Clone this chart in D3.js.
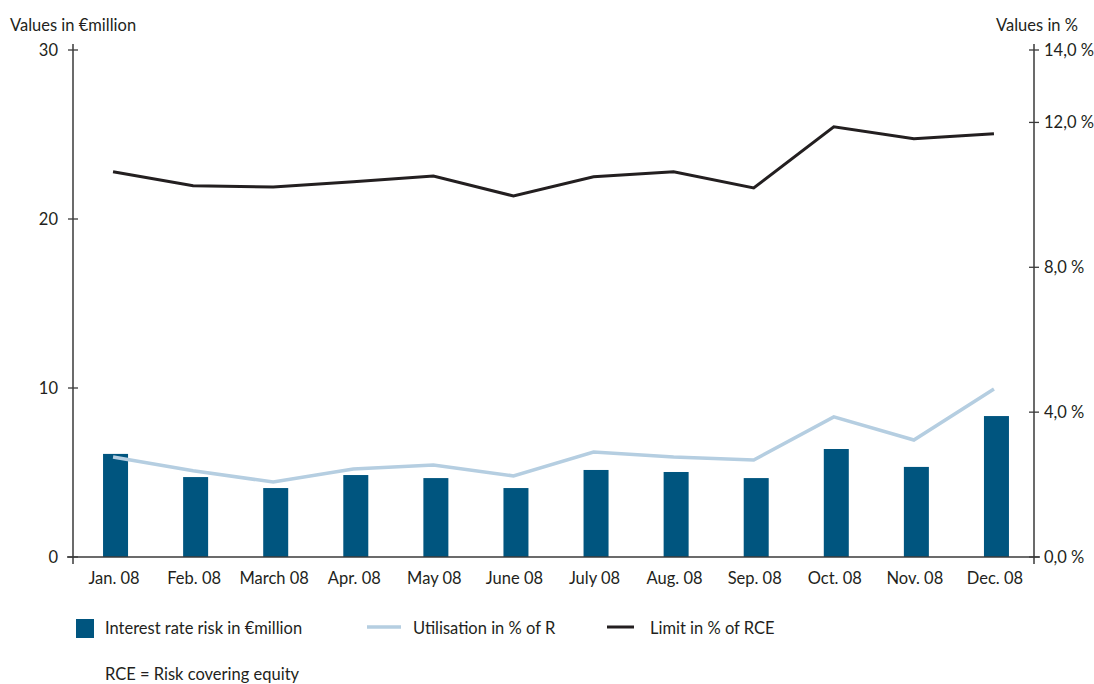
<!DOCTYPE html>
<html><head><meta charset="utf-8">
<script src="https://cdn.jsdelivr.net/npm/d3@7"></script>
<style>
body{margin:0;background:#fff;}
text{font-family:Lato,"Open Sans",sans-serif;fill:#231f20;}
</style></head>
<body><svg id="c" width="1094" height="684"></svg>
<script>
const categories = ["Jan. 08","Feb. 08","March 08","Apr. 08","May 08","June 08","July 08","Aug. 08","Sep. 08","Oct. 08","Nov. 08","Dec. 08"];
const interestRisk = [6.1,4.73,4.08,4.85,4.67,4.08,5.15,5.03,4.67,6.39,5.33,8.34];
const utilisation = [2.76,2.38,2.07,2.43,2.54,2.24,2.90,2.76,2.68,3.87,3.23,4.64];
const limit = [10.64,10.25,10.22,10.36,10.52,9.97,10.50,10.64,10.19,11.88,11.55,11.69];
const leftTicks = [0,10,20,30];
const rightTicks = [0,4,8,12,14];

const svg = d3.select("#c");
const L = 73, R = 1034, T = 50, B = 557;
const FS = 16.5;
const x = d3.scaleBand().domain(categories).range([L,R]).padding(0);
const yL = d3.scaleLinear().domain([0,30]).range([B,T]);
const yR = d3.scaleLinear().domain([0,14]).range([B,T]);
const axisColor = "#3a3a3a";

// bars
svg.append("g").selectAll("rect").data(interestRisk).join("rect")
  .attr("x",(d,i)=>x(categories[i])+x.bandwidth()/2-10)
  .attr("width",25)
  .attr("y",d=>yL(d)).attr("height",d=>B-yL(d))
  .attr("fill","#00557f");

// lines
const line = (scale)=>d3.line().x((d,i)=>x(categories[i])+x.bandwidth()/2).y(d=>scale(d));
svg.append("path").datum(utilisation).attr("d",line(yR)).attr("fill","none")
  .attr("stroke","#b5cee1").attr("stroke-width",3.5);
svg.append("path").datum(limit).attr("d",line(yR)).attr("fill","none")
  .attr("stroke","#231f20").attr("stroke-width",3);

// axes
const g = svg.append("g");
g.append("line").attr("x1",L).attr("x2",L).attr("y1",T-6).attr("y2",B+7).attr("stroke",axisColor).attr("stroke-width",1.5);
g.append("line").attr("x1",R).attr("x2",R).attr("y1",T-6).attr("y2",B+7).attr("stroke",axisColor).attr("stroke-width",1.5);
g.append("line").attr("x1",L-6).attr("x2",R+6).attr("y1",B).attr("y2",B).attr("stroke",axisColor).attr("stroke-width",1.5);

g.selectAll(".lt").data(leftTicks).join("line").attr("x1",L-5).attr("x2",L+5)
  .attr("y1",d=>yL(d)).attr("y2",d=>yL(d)).attr("stroke",axisColor).attr("stroke-width",1.3);
g.selectAll(".ll").data(leftTicks).join("text").attr("x",58).attr("y",d=>yL(d)+6)
  .attr("text-anchor","end").attr("font-size",FS).text(d=>d);

g.selectAll(".rt").data(rightTicks).join("line").attr("x1",R-5).attr("x2",R+5)
  .attr("y1",d=>yR(d)).attr("y2",d=>yR(d)).attr("stroke",axisColor).attr("stroke-width",1.3);
g.selectAll(".rl").data(rightTicks).join("text").attr("x",1044).attr("y",d=>yR(d)+6)
  .attr("font-size",FS).text(d=>d.toFixed(1).replace(".",",")+" %");

g.selectAll(".xl").data(categories).join("text").attr("x",d=>x(d)+x.bandwidth()/2+1).attr("y",584)
  .attr("text-anchor","middle").attr("font-size",FS).text(d=>d);

svg.append("text").attr("x",10).attr("y",31).attr("font-size",FS).text("Values in €million");
svg.append("text").attr("x",1078).attr("y",31).attr("font-size",FS).attr("text-anchor","end").text("Values in %");

// legend
svg.append("rect").attr("x",76).attr("y",619).attr("width",18).attr("height",19).attr("fill","#00557f");
svg.append("text").attr("x",105).attr("y",634).attr("font-size",FS).text("Interest rate risk in €million");
svg.append("line").attr("x1",367).attr("x2",401).attr("y1",627).attr("y2",627).attr("stroke","#b5cee1").attr("stroke-width",3.5);
svg.append("text").attr("x",413).attr("y",634).attr("font-size",FS).text("Utilisation in % of R");
svg.append("line").attr("x1",607).attr("x2",634).attr("y1",627).attr("y2",627).attr("stroke","#231f20").attr("stroke-width",3);
svg.append("text").attr("x",650).attr("y",634).attr("font-size",FS).text("Limit in % of RCE");
svg.append("text").attr("x",105).attr("y",680).attr("font-size",FS).text("RCE = Risk covering equity");
</script></body></html>
